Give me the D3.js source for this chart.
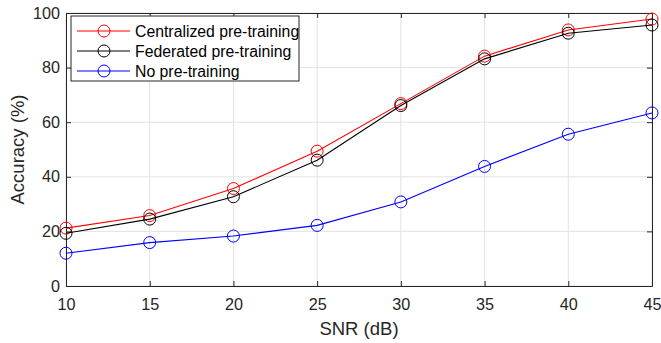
<!DOCTYPE html>
<html>
<head>
<meta charset="utf-8">
<script src="https://cdn.jsdelivr.net/npm/d3@7"></script>
<style>
  body { margin: 0; background: #fff; }
  text { font-family: "Liberation Sans", Arial, sans-serif; }
</style>
</head>
<body>
<div id="chart"></div>
<script>
var snr = [10, 15, 20, 25, 30, 35, 40, 45];
var centralized = [21.2, 25.8, 35.7, 49.4, 66.8, 84.2, 93.8, 97.8];
var federated = [19.3, 24.5, 32.7, 46.1, 66.1, 83.2, 92.6, 95.6];
var noPretrain = [12.0, 15.9, 18.3, 22.2, 30.8, 43.8, 55.6, 63.4];
var seriesNames = ['Centralized pre-training', 'Federated pre-training', 'No pre-training'];
var seriesColors = ['#ff0000', '#000000', '#0000ff'];
var xTicks = [10, 15, 20, 25, 30, 35, 40, 45];
var yTicks = [0, 20, 40, 60, 80, 100];

var W = 661, H = 343;
var margin = {top: 13, right: 9, bottom: 57, left: 66};
var width = W - margin.left - margin.right,
    height = H - margin.top - margin.bottom;

var svg = d3.select('#chart').append('svg')
    .attr('width', W).attr('height', H)
  .append('g')
    .attr('transform', 'translate(' + margin.left + ',' + margin.top + ')');

var x = d3.scaleLinear().domain([10, 45]).range([0, width]);
var y = d3.scaleLinear().domain([0, 100]).range([height, 0]);

// grid
svg.append('g').selectAll('line.gx').data(xTicks).enter().append('line')
  .attr('x1', d => x(d)).attr('x2', d => x(d)).attr('y1', 0).attr('y2', height)
  .attr('stroke', '#e3e3e3').attr('stroke-width', 1);
svg.append('g').selectAll('line.gy').data(yTicks).enter().append('line')
  .attr('y1', d => y(d)).attr('y2', d => y(d)).attr('x1', 0).attr('x2', width)
  .attr('stroke', '#e3e3e3').attr('stroke-width', 1);

// axes (ticks inward, box on)
var tickLen = 5;
var axColor = '#262626';
function styleAxis(g) {
  g.select('.domain').attr('stroke', axColor);
  g.selectAll('.tick line').attr('stroke', axColor);
  g.selectAll('.tick text').attr('fill', axColor).style('font-size', '16.2px')
    .style('font-family', '"Liberation Sans", Arial, sans-serif');
}
svg.append('g').attr('transform', 'translate(0,' + height + ')')
  .call(d3.axisBottom(x).tickValues(xTicks).tickSizeInner(-tickLen).tickSizeOuter(0).tickPadding(12))
  .call(styleAxis);
svg.append('g')
  .call(d3.axisLeft(y).tickValues(yTicks).tickSizeInner(-tickLen).tickSizeOuter(0).tickPadding(6))
  .call(styleAxis);
svg.append('g')
  .call(d3.axisTop(x).tickValues(xTicks).tickSizeInner(-tickLen).tickSizeOuter(0).tickFormat(''))
  .call(styleAxis);
svg.append('g').attr('transform', 'translate(' + width + ',0)')
  .call(d3.axisRight(y).tickValues(yTicks).tickSizeInner(-tickLen).tickSizeOuter(0).tickFormat(''))
  .call(styleAxis);

// series
var allSeries = [centralized, federated, noPretrain];
var line = d3.line().x((d, i) => x(snr[i])).y(d => y(d));
allSeries.forEach(function(vals, k) {
  svg.append('path').datum(vals)
    .attr('d', line).attr('fill', 'none')
    .attr('stroke', seriesColors[k]).attr('stroke-width', 1.1);
  svg.append('g').selectAll('circle').data(vals).enter().append('circle')
    .attr('cx', (d, i) => x(snr[i])).attr('cy', d => y(d)).attr('r', 6)
    .attr('fill', 'none').attr('stroke', seriesColors[k]).attr('stroke-width', 1);
});

// legend
var lg = svg.append('g').attr('transform', 'translate(5,3)');
lg.append('rect').attr('x', 0).attr('y', 0).attr('width', 228).attr('height', 65)
  .attr('fill', '#fff').attr('stroke', axColor).attr('stroke-width', 1);
seriesNames.forEach(function(name, k) {
  var cy = 15 + k * 20;
  lg.append('line').attr('x1', 6).attr('x2', 59).attr('y1', cy).attr('y2', cy)
    .attr('stroke', seriesColors[k]).attr('stroke-width', 1.1);
  lg.append('circle').attr('cx', 33).attr('cy', cy).attr('r', 6)
    .attr('fill', 'none').attr('stroke', seriesColors[k]);
  lg.append('text').attr('x', 64).attr('y', cy).attr('dy', '0.35em')
    .style('font-size', '15.8px').attr('fill', '#000').text(name);
});

// axis labels
svg.append('text').attr('x', width / 2).attr('y', height + 49)
  .attr('text-anchor', 'middle').style('font-size', '18.5px').attr('fill', axColor)
  .text('SNR (dB)');
svg.append('text').attr('transform', 'translate(' + (-42) + ',' + (height / 2) + ') rotate(-90)')
  .attr('text-anchor', 'middle').style('font-size', '18.5px').attr('fill', axColor)
  .text('Accuracy (%)');
</script>
</body>
</html>
